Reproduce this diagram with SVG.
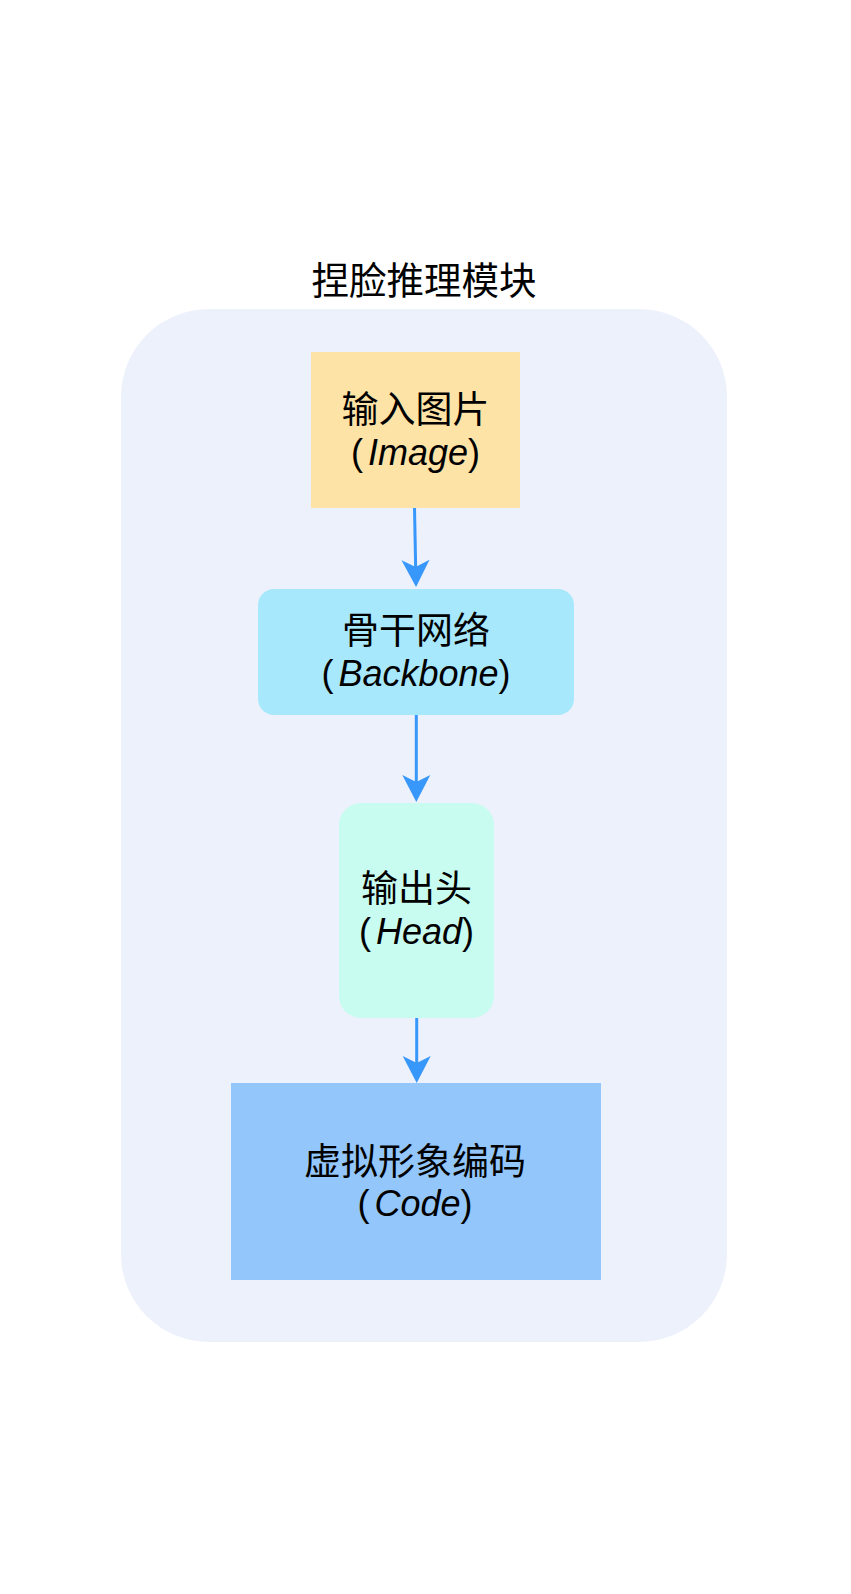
<svg xmlns="http://www.w3.org/2000/svg" width="851" height="1594" viewBox="0 0 851 1594">
<defs>
<style>
.cjk{font-family:"Noto Sans CJK SC","Liberation Sans",sans-serif;font-size:37px;fill:#000;text-anchor:middle}
.lat{font-family:"Liberation Sans","Noto Sans CJK SC",sans-serif;font-size:36px;fill:#000;text-anchor:middle}
.it{font-style:italic}
.conn{stroke:#3797FB;stroke-width:3;fill:none;marker-end:url(#ah)}
</style>
<marker id="ah" viewBox="-28 -15 30 30" markerWidth="30" markerHeight="30" refX="-18" refY="0" markerUnits="userSpaceOnUse" orient="auto">
<path d="M0,0 L-27,-14 L-20,0 L-27,14 Z" fill="#3797FB"/>
</marker>
</defs>
<rect width="851" height="1594" fill="#FFFFFF"/>
<g id="module">
<text class="cjk" x="424" y="294" style="font-size:37.5px">捏脸推理模块</text>
<rect x="121" y="309" width="606" height="1033" rx="88" ry="88" fill="#ECF1FC"/>
</g>
<g id="node-image">
<rect x="311" y="352" width="209" height="156" fill="#FEE3A6"/>
<text class="cjk" x="415.5" y="423">输入图片</text>
<text class="lat" x="415.5" y="465">(<tspan class="it" dx="5">Image</tspan>)</text>
</g>
<g id="node-backbone">
<rect x="258" y="589" width="316" height="126" rx="16" ry="16" fill="#A8E8FC"/>
<text class="cjk" x="416" y="644">骨干网络</text>
<text class="lat" x="416" y="686">(<tspan class="it" dx="5">Backbone</tspan>)</text>
</g>
<g id="node-head">
<rect x="339" y="803" width="155" height="215" rx="22" ry="22" fill="#C9FCF1"/>
<text class="cjk" x="416.5" y="902">输出头</text>
<text class="lat" x="416.5" y="944">(<tspan class="it" dx="5">Head</tspan>)</text>
</g>
<g id="node-code">
<rect x="231" y="1083" width="370" height="197" fill="#93C6FA"/>
<text class="cjk" x="415" y="1175">虚拟形象编码</text>
<text class="lat" x="415" y="1216">(<tspan class="it" dx="5">Code</tspan>)</text>
</g>
<g id="connectors">
<path class="conn" d="M414.5,508 L415.7,569"/>
<path class="conn" d="M416.3,715 L416.3,784"/>
<path class="conn" d="M416.7,1018 L416.7,1065"/>
</g>
</svg>
